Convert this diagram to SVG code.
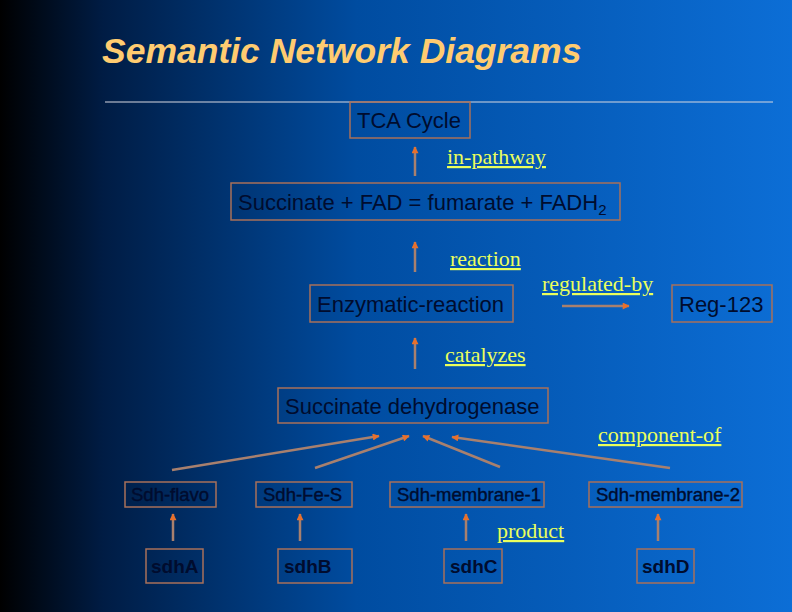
<svg xmlns="http://www.w3.org/2000/svg" width="792" height="612" viewBox="0 0 792 612">
<defs>
<linearGradient id="bg" x1="0" y1="0" x2="1" y2="0">
<stop offset="0" stop-color="#000000"/>
<stop offset="0.13" stop-color="#001c44"/>
<stop offset="0.45" stop-color="#004ca0"/>
<stop offset="1" stop-color="#0c6ed6"/>
</linearGradient>
<marker id="ah" viewBox="0 0 10 10" refX="9" refY="5" markerWidth="8" markerHeight="7" markerUnits="userSpaceOnUse" orient="auto">
<path d="M0,0 L10,5 L0,10 z" fill="#e8702c"/>
</marker>
<style>
.box{fill:none;stroke:#a8705a;stroke-width:1.5}
.t{font-family:"Liberation Sans",Arial,sans-serif;font-size:22px;fill:#000c2e}
.s{font-family:"Liberation Sans",Arial,sans-serif;font-size:18.5px;fill:#000c2e;stroke:#000c2e;stroke-width:0.4}
.b{font-family:"Liberation Sans",Arial,sans-serif;font-size:19px;font-weight:bold;fill:#000c2e}
.lab{font-family:"Liberation Serif","Times New Roman",serif;font-size:22px;fill:#eaff5c;text-decoration:underline}
.c{stroke:#a8806e;stroke-width:2.5;fill:none;marker-end:url(#ah)}
</style>
</defs>
<rect x="0" y="0" width="792" height="612" fill="url(#bg)"/>
<text x="102" y="63" font-family="'Liberation Sans',Arial,sans-serif" font-size="35.5" font-weight="bold" font-style="italic" fill="#ffcc70">Semantic Network Diagrams</text>
<line x1="105" y1="102" x2="773" y2="102" stroke="#d8d8e0" stroke-width="1.2"/>

<g id="connectors">
<line class="c" x1="415" y1="176" x2="415" y2="147"/>
<line class="c" x1="415" y1="272" x2="415" y2="242"/>
<line class="c" x1="562" y1="306" x2="629" y2="306"/>
<line class="c" x1="415" y1="369" x2="415" y2="338"/>
<line class="c" x1="172" y1="470" x2="379" y2="436"/>
<line class="c" x1="315" y1="468" x2="409" y2="436"/>
<line class="c" x1="500" y1="467" x2="423" y2="436"/>
<line class="c" x1="670" y1="468" x2="452" y2="437"/>
<line class="c" x1="173" y1="541" x2="173" y2="514"/>
<line class="c" x1="300" y1="541" x2="300" y2="514"/>
<line class="c" x1="466" y1="541" x2="466" y2="514"/>
<line class="c" x1="658" y1="541" x2="658" y2="514"/>
</g>

<g id="labels">
<text class="lab" x="447" y="164">in-pathway</text>
<text class="lab" x="450" y="266">reaction</text>
<text class="lab" x="542" y="291">regulated-by</text>
<text class="lab" x="445" y="362">catalyzes</text>
<text class="lab" x="598" y="442">component-of</text>
<text class="lab" x="497" y="538">product</text>
</g>

<g id="tca"><rect class="box" x="350" y="102" width="120" height="36"/><text class="t" x="357" y="128">TCA Cycle</text></g>
<g id="succ-reaction"><rect class="box" x="231" y="183" width="389" height="37"/><text class="t" x="238" y="209.5">Succinate + FAD = fumarate + FADH<tspan font-size="15" dy="5">2</tspan></text></g>
<g id="enzymatic"><rect class="box" x="310" y="285" width="203" height="37"/><text class="t" x="317" y="311.5">Enzymatic-reaction</text></g>
<g id="reg123"><rect class="box" x="672" y="285" width="100" height="37"/><text class="t" x="679" y="311.5">Reg-123</text></g>
<g id="sdh"><rect class="box" x="278" y="388" width="270" height="35"/><text class="t" x="285" y="413.5">Succinate dehydrogenase</text></g>

<g id="sdh-flavo"><rect class="box" x="125" y="482" width="91" height="25"/><text class="s" x="131" y="501">Sdh-flavo</text></g>
<g id="sdh-fes"><rect class="box" x="256" y="482" width="96" height="25"/><text class="s" x="263" y="501">Sdh-Fe-S</text></g>
<g id="sdh-m1"><rect class="box" x="390" y="482" width="154" height="25"/><text class="s" x="397" y="501">Sdh-membrane-1</text></g>
<g id="sdh-m2"><rect class="box" x="589" y="482" width="153" height="25"/><text class="s" x="596" y="501">Sdh-membrane-2</text></g>

<g id="sdhA"><rect class="box" x="146" y="549" width="57" height="34"/><text class="b" x="151" y="573">sdhA</text></g>
<g id="sdhB"><rect class="box" x="278" y="549" width="74" height="34"/><text class="b" x="284" y="573">sdhB</text></g>
<g id="sdhC"><rect class="box" x="444" y="549" width="58" height="34"/><text class="b" x="450" y="573">sdhC</text></g>
<g id="sdhD"><rect class="box" x="637" y="549" width="57" height="34"/><text class="b" x="642" y="573">sdhD</text></g>
</svg>
